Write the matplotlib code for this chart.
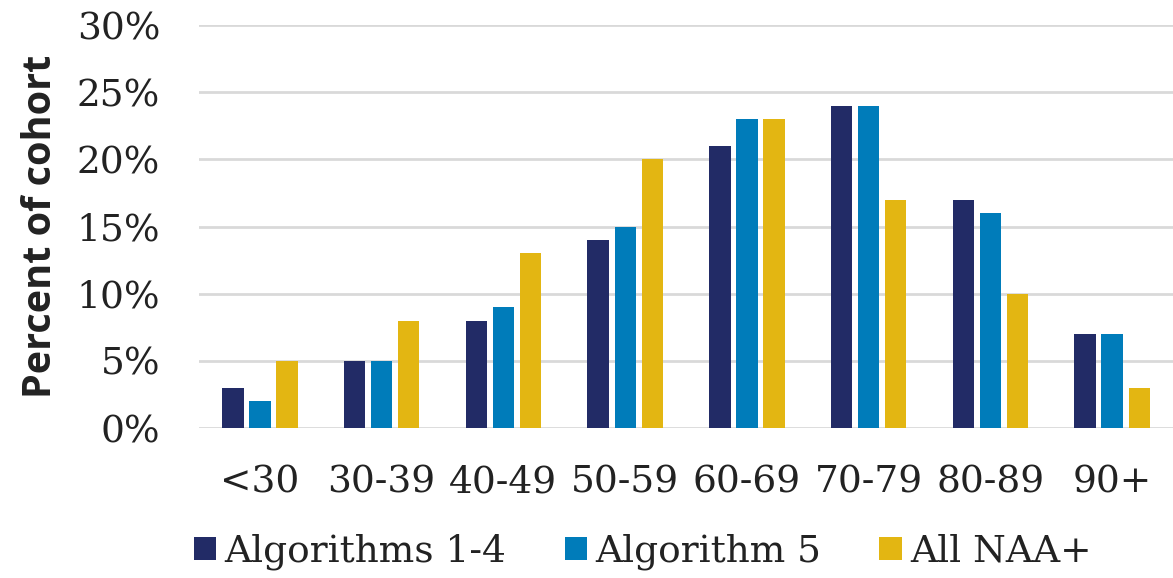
import numpy as np
import matplotlib.pyplot as plt
from matplotlib.ticker import PercentFormatter

age_groups = ["<30", "30-39", "40-49", "50-59", "60-69", "70-79", "80-89", "90+"]
alg_1_4 = [3, 5, 8, 14, 21, 24, 17, 7]
alg_5 = [2, 5, 9, 15, 23, 24, 16, 7]
all_naa = [5, 8, 13, 20, 23, 17, 10, 3]

series = [
    ("Algorithms 1-4", alg_1_4, "#222B66"),
    ("Algorithm 5", alg_5, "#007CBA"),
    ("All NAA+", all_naa, "#E3B612"),
]

serif = "DejaVu Serif"
fs = 27

fig = plt.figure(figsize=(11.73, 5.78), dpi=100)
ax = fig.add_axes([0.1697, 0.2595, 0.8303, 0.6972])

x = np.arange(len(age_groups))
width = 0.175
step = 0.222
for k, (name, vals, color) in enumerate(series):
    ax.bar(x + (k - 1) * step, vals, width, color=color, label=name, zorder=3)

ax.set_xlim(-0.5, len(age_groups) - 0.5)
ax.set_ylim(0, 30)
ax.set_yticks(range(0, 31, 5))
ax.yaxis.set_major_formatter(PercentFormatter(decimals=0))
ax.set_xticks(x)
ax.set_xticklabels(age_groups)

ax.grid(axis="y", color="#D9D9D9", linewidth=2, zorder=0)
for s in ax.spines.values():
    s.set_visible(False)
ax.tick_params(length=0)
ax.tick_params(axis="y", pad=28, labelsize=fs)
ax.tick_params(axis="x", pad=26, labelsize=fs)
for lab in ax.get_xticklabels() + ax.get_yticklabels():
    lab.set_fontfamily(serif)
    lab.set_color("#222222")

ax.set_ylabel("Percent of cohort", fontsize=28.5, fontweight="bold",
              fontfamily="Open Sans", color="#222222", labelpad=12)

fig.legend(loc="center", bbox_to_anchor=(0.548, 0.045), ncol=3, frameon=False,
           prop={"family": serif, "size": fs}, handlelength=0.6, handleheight=0.6,
           handletextpad=0.22, columnspacing=1.55, labelcolor="#222222")

fig.savefig("out.png", dpi=100)
